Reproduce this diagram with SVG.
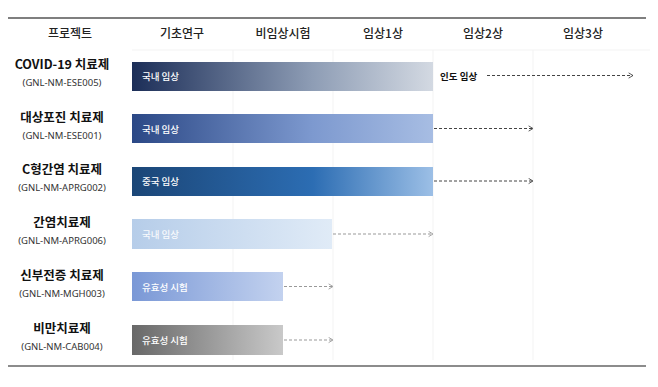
<svg xmlns="http://www.w3.org/2000/svg" width="658" height="387" viewBox="0 0 658 387">
<defs>
<style>
.hd{font-family:"Noto Sans CJK KR","Noto Sans",sans-serif;font-size:12px;font-weight:500;fill:#222;text-anchor:middle}
.nm{font-family:"Noto Sans CJK KR","Noto Sans",sans-serif;font-size:12.5px;font-weight:bold;fill:#111;text-anchor:middle}
.cd{font-family:"Noto Sans","Noto Sans CJK KR",sans-serif;font-size:9.5px;fill:#333;text-anchor:middle}
.bt{font-family:"Noto Sans CJK KR","Noto Sans",sans-serif;font-size:9.5px;font-weight:500;fill:#fff}
.grid{stroke:#f3f3f3;stroke-width:1}
.ar{fill:none;stroke-dasharray:3 2;stroke-width:1}
.dk{stroke:#444}
.lt{stroke:#999}
</style>
<linearGradient id="g1" x1="0" x2="1" y1="0" y2="0"><stop offset="0" stop-color="#1c2e58"/><stop offset="0.6" stop-color="#8e9db5"/><stop offset="1" stop-color="#d3d9e2"/></linearGradient>
<linearGradient id="g2" x1="0" x2="1" y1="0" y2="0"><stop offset="0" stop-color="#2b4886"/><stop offset="0.6" stop-color="#7d99cf"/><stop offset="1" stop-color="#a7bde3"/></linearGradient>
<linearGradient id="g3" x1="0" x2="1" y1="0" y2="0"><stop offset="0" stop-color="#1b4677"/><stop offset="0.6" stop-color="#2c6db3"/><stop offset="1" stop-color="#9cbfe6"/></linearGradient>
<linearGradient id="g4" x1="0" x2="1" y1="0" y2="0"><stop offset="0" stop-color="#b6cde9"/><stop offset="1" stop-color="#e0ebf7"/></linearGradient>
<linearGradient id="g5" x1="0" x2="1" y1="0" y2="0"><stop offset="0" stop-color="#7a98d6"/><stop offset="1" stop-color="#c3d2ef"/></linearGradient>
<linearGradient id="g6" x1="0" x2="1" y1="0" y2="0"><stop offset="0" stop-color="#686868"/><stop offset="1" stop-color="#c9c9c9"/></linearGradient>
<marker id="mdk" viewBox="0 0 8 8" refX="7" refY="4" markerWidth="7" markerHeight="7" orient="auto" markerUnits="userSpaceOnUse"><path d="M2,1 L7,4 L2,7" fill="none" stroke="#444" stroke-width="1"/></marker>
<marker id="mlt" viewBox="0 0 8 8" refX="7" refY="4" markerWidth="7" markerHeight="7" orient="auto" markerUnits="userSpaceOnUse"><path d="M2,1 L7,4 L2,7" fill="none" stroke="#999" stroke-width="1"/></marker>
</defs>
<rect width="658" height="387" fill="#fff"/>
<g id="grid">
<line class="grid" x1="233" y1="50" x2="233" y2="360"/>
<line class="grid" x1="333" y1="50" x2="333" y2="360"/>
<line class="grid" x1="433" y1="50" x2="433" y2="360"/>
<line class="grid" x1="533" y1="50" x2="533" y2="360"/>
<line class="grid" x1="132" y1="50" x2="650" y2="50"/>
</g>
<line x1="8" y1="18" x2="646" y2="18" stroke="#555" stroke-width="1.5"/>
<line x1="8" y1="366" x2="646" y2="366" stroke="#666" stroke-width="1.5"/>
<g id="header">
<text class="hd" x="70" y="38">프로젝트</text>
<text class="hd" x="182" y="38">기초연구</text>
<text class="hd" x="283" y="38">비임상시험</text>
<text class="hd" x="383" y="38">임상1상</text>
<text class="hd" x="483" y="38">임상2상</text>
<text class="hd" x="583" y="38">임상3상</text>
</g>
<g id="row1">
<text class="nm" x="62" y="69">COVID-19 치료제</text>
<text class="cd" x="62" y="86">(GNL-NM-ESE005)</text>
<rect x="132" y="62" width="301" height="29" fill="url(#g1)"/>
<text class="bt" x="142" y="79.5">국내 임상</text>
<text x="440" y="79.5" font-family="Noto Sans CJK KR,sans-serif" font-size="9.5" font-weight="bold" fill="#111">인도 임상</text>
</g>
<g id="row2">
<text class="nm" x="62" y="122">대상포진 치료제</text>
<text class="cd" x="62" y="139">(GNL-NM-ESE001)</text>
<rect x="132" y="114" width="301" height="29" fill="url(#g2)"/>
<text class="bt" x="142" y="132.5">국내 임상</text>
</g>
<g id="row3">
<text class="nm" x="62" y="174">C형간염 치료제</text>
<text class="cd" x="62" y="191">(GNL-NM-APRG002)</text>
<rect x="132" y="167" width="301" height="29" fill="url(#g3)"/>
<text class="bt" x="142" y="185">중국 임상</text>
</g>
<g id="row4">
<text class="nm" x="62" y="227">간염치료제</text>
<text class="cd" x="62" y="244">(GNL-NM-APRG006)</text>
<rect x="132" y="219" width="200" height="30" fill="url(#g4)"/>
<text class="bt" x="142" y="238" fill-opacity="0.9">국내 임상</text>
</g>
<g id="row5">
<text class="nm" x="62" y="280">신부전증 치료제</text>
<text class="cd" x="62" y="297">(GNL-NM-MGH003)</text>
<rect x="132" y="272" width="151" height="29" fill="url(#g5)"/>
<text class="bt" x="142" y="290.5">유효성 시험</text>
</g>
<g id="row6">
<text class="nm" x="62" y="333">비만치료제</text>
<text class="cd" x="62" y="350">(GNL-NM-CAB004)</text>
<rect x="132" y="325" width="151" height="30" fill="url(#g6)"/>
<text class="bt" x="142" y="344">유효성 시험</text>
</g>
<g id="connectors">
<line class="ar dk" x1="487" y1="75.5" x2="633" y2="75.5" marker-end="url(#mdk)"/>
<line class="ar dk" x1="434" y1="128.5" x2="533" y2="128.5" marker-end="url(#mdk)"/>
<line class="ar dk" x1="434" y1="181" x2="533" y2="181" marker-end="url(#mdk)"/>
<line class="ar lt" x1="333" y1="234" x2="433" y2="234" marker-end="url(#mlt)"/>
<line class="ar lt" x1="284" y1="286.5" x2="333" y2="286.5" marker-end="url(#mlt)"/>
<line class="ar lt" x1="284" y1="340" x2="333" y2="340" marker-end="url(#mlt)"/>
</g>
</svg>
